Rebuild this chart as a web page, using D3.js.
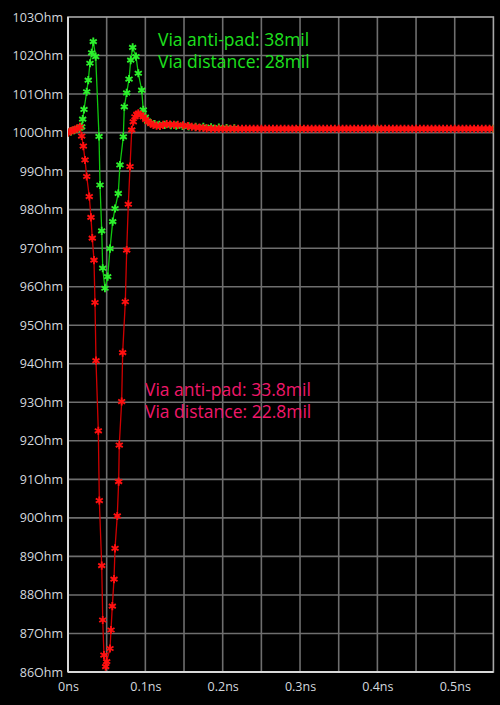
<!DOCTYPE html>
<html><head><meta charset="utf-8">
<script src="https://cdn.jsdelivr.net/npm/d3@7"></script>
<style>
html,body{margin:0;padding:0;background:#000;}
svg{display:block;}
</style></head>
<body>
<svg id="c" width="500" height="705"></svg>
<script>
// ---- data ----
const yTicks = [86,87,88,89,90,91,92,93,94,95,96,97,98,99,100,101,102,103];
const yTickLabels = yTicks.map(v => v + "Ohm");
const xTicks = [0,0.1,0.2,0.3,0.4,0.5];
const xTickLabels = ["0ns","0.1ns","0.2ns","0.3ns","0.4ns","0.5ns"];
const xGrid = [0.05,0.1,0.15,0.2,0.25,0.3,0.35,0.4,0.45,0.5];

const greenName = ["Via anti-pad: 38mil","Via distance: 28mil"];
const redName = ["Via anti-pad: 33.8mil","Via distance: 22.8mil"];

const greenT = [0,0.004,0.008,0.012,0.0155,0.0177,0.019,0.0207,0.0242,0.0262,0.0284,0.0306,0.0327,0.0358,0.0401,0.0414,0.0436,0.0449,0.0478,0.0513,0.0543,0.0578,0.0608,0.065,0.0672,0.0715,0.0728,0.0759,0.0789,0.0811,0.0836,0.0879,0.0909,0.0953,0.0973,0.1,0.103,0.107,0.112,0.118,0.125,0.133,0.14,0.148,0.156,0.165,0.175,0.185,0.195,0.205,0.215,0.3,0.4,0.55];
const greenZ = [100.0,100.03,100.06,100.1,100.12,100.15,100.35,100.6,101.06,101.36,101.8,102.07,102.36,101.97,99.9,98.64,97.45,96.48,95.96,96.26,96.99,97.69,98.03,98.42,99.16,99.89,100.67,101.03,101.39,101.88,102.21,101.97,101.54,101.1,100.59,100.4,100.3,100.25,100.22,100.2,100.2,100.19,100.18,100.17,100.16,100.15,100.15,100.14,100.13,100.12,100.11,100.1,100.1,100.1];

const redT = [0,0.003,0.006,0.009,0.012,0.0155,0.0177,0.0198,0.022,0.0242,0.0275,0.0297,0.0314,0.0336,0.0349,0.0362,0.0392,0.0405,0.0436,0.0449,0.0465,0.0487,0.05,0.0543,0.0556,0.0573,0.0595,0.0608,0.0637,0.0655,0.0663,0.0694,0.0707,0.0741,0.0759,0.078,0.0802,0.0824,0.0844,0.0866,0.0888,0.0909,0.094,0.0973,0.1005,0.1038,0.107,0.1103,0.1145,0.1189,0.123,0.1276,0.132,0.137,0.142,0.1487,0.155,0.16,0.165,0.17,0.175,0.1793,
0.185,0.19,0.195,0.2,0.205,0.21,0.215,0.22,0.225,0.23,0.235,0.24,0.245,0.25,0.255,0.26,0.265,0.27,0.275,0.28,0.285,0.29,0.295,0.3,0.305,0.31,0.315,0.32,0.325,0.33,0.335,0.34,0.345,0.35,0.355,0.36,0.365,0.37,0.375,0.38,0.385,0.39,0.395,0.4,0.405,0.41,0.415,0.42,0.425,0.43,0.435,0.44,0.445,0.45,0.455,0.46,0.465,0.47,0.475,0.48,0.485,0.49,0.495,0.5,0.505,0.51,0.515,0.52,0.525,0.53,0.535,0.54,0.545,0.55];
const redZ = [100.0,100.03,100.06,100.08,100.1,100.15,99.91,99.65,99.29,98.86,98.34,97.8,97.26,96.69,95.59,94.08,92.26,90.45,88.76,87.35,86.44,86.14,86.27,86.61,87.09,87.71,88.41,89.21,90.05,90.94,91.89,93.02,94.29,95.61,96.95,98.14,99.12,100.07,100.28,100.41,100.47,100.5,100.46,100.41,100.34,100.28,100.23,100.2,100.18,100.17,100.2,100.22,100.21,100.2,100.2,100.19,100.17,100.15,100.14,100.13,100.12,100.11,
100.1,100.1,100.1,100.1,100.1,100.1,100.1,100.1,100.1,100.1,100.1,100.1,100.1,100.1,100.1,100.1,100.1,100.1,100.1,100.1,100.1,100.1,100.1,100.1,100.1,100.1,100.1,100.1,100.1,100.1,100.1,100.1,100.1,100.1,100.1,100.1,100.1,100.1,100.1,100.1,100.1,100.1,100.1,100.1,100.1,100.1,100.1,100.1,100.1,100.1,100.1,100.1,100.1,100.1,100.1,100.1,100.1,100.1,100.1,100.1,100.1,100.1,100.1,100.1,100.1,100.1,100.1,100.1,100.1,100.1,100.1,100.1,100.1,100.1];

// ---- chart ----
const svg = d3.select("#c");
const L = 68, T = 17, R = 493.4, B = 672;
const x = d3.scaleLinear().domain([0,0.55]).range([L,R]);
const y = d3.scaleLinear().domain([86,103]).range([B,T]);
const font = "'Open Sans', 'Segoe UI', sans-serif";

svg.append("rect").attr("width",500).attr("height",705).attr("fill","#000");

// grid
const grid = svg.append("g");
grid.selectAll("line.v").data(xGrid).join("line")
  .attr("x1",d=>x(d)).attr("x2",d=>x(d)).attr("y1",T).attr("y2",B)
  .attr("stroke","#6e6e6e").attr("stroke-width",1.6);
grid.selectAll("line.h").data(yTicks.slice(1,-1)).join("line")
  .attr("x1",L).attr("x2",R).attr("y1",d=>y(d)).attr("y2",d=>y(d))
  .attr("stroke","#6e6e6e").attr("stroke-width",1.6);
// frame
svg.append("rect").attr("x",L).attr("y",T).attr("width",R-L).attr("height",B-T)
  .attr("fill","none").attr("stroke","#a8a8a8").attr("stroke-width",1.6);
svg.append("line").attr("x1",L).attr("x2",L).attr("y1",T).attr("y2",B)
  .attr("stroke","#d8d8d8").attr("stroke-width",2);
svg.append("line").attr("x1",L).attr("x2",R).attr("y1",B).attr("y2",B)
  .attr("stroke","#d8d8d8").attr("stroke-width",2);

// axes
const ay = svg.append("g").attr("transform",`translate(${L},0)`)
  .call(d3.axisLeft(y).tickValues(yTicks).tickFormat((d,i)=>yTickLabels[i]).tickSize(0).tickPadding(5));
const ax = svg.append("g").attr("transform",`translate(0,${B})`)
  .call(d3.axisBottom(x).tickValues(xTicks).tickFormat((d,i)=>xTickLabels[i]).tickSize(0).tickPadding(10));
[ay,ax].forEach(g=>{
  g.select(".domain").remove();
  g.selectAll("text").attr("fill","#d4d8de").style("font-family",font).style("font-size","12.5px");
});

// clip
svg.append("clipPath").attr("id","clip").append("rect")
  .attr("x",L).attr("y",T-8).attr("width",R-L).attr("height",B-T+8);

const line = d3.line().x(d=>x(d[0])).y(d=>y(d[1]));
const sym = d3.symbol().type(d3.symbolAsterisk || d3.symbolCross).size(46);

function series(ts, zs, lineColor, markColor){
  const pts = ts.map((t,i)=>[t, zs[i]]);
  const g = svg.append("g").attr("clip-path","url(#clip)");
  g.append("path").datum(pts).attr("d",line).attr("fill","none")
    .attr("stroke",lineColor).attr("stroke-width",1.3);
  g.selectAll("path.m").data(pts).join("path").attr("class","m")
    .attr("transform",d=>`translate(${x(d[0])},${y(d[1])})`)
    .attr("d",sym).attr("fill",markColor).attr("stroke",markColor).attr("stroke-width",1.9);
}
series(greenT, greenZ, "#10c810", "#2cf02c");
series(redT, redZ, "#d00000", "#ff1010");

// annotations
const ann = svg.append("g").style("font-family",font).style("font-size","17.5px");
ann.selectAll("text.g").data(greenName).join("text")
  .attr("x",158).attr("y",(d,i)=>46+i*22).attr("fill","#1ee01e").text(d=>d);
ann.selectAll("text.r").data(redName).join("text")
  .attr("x",145).attr("y",(d,i)=>396+i*22).attr("fill","#f0186a").text(d=>d);
</script>
</body></html>
